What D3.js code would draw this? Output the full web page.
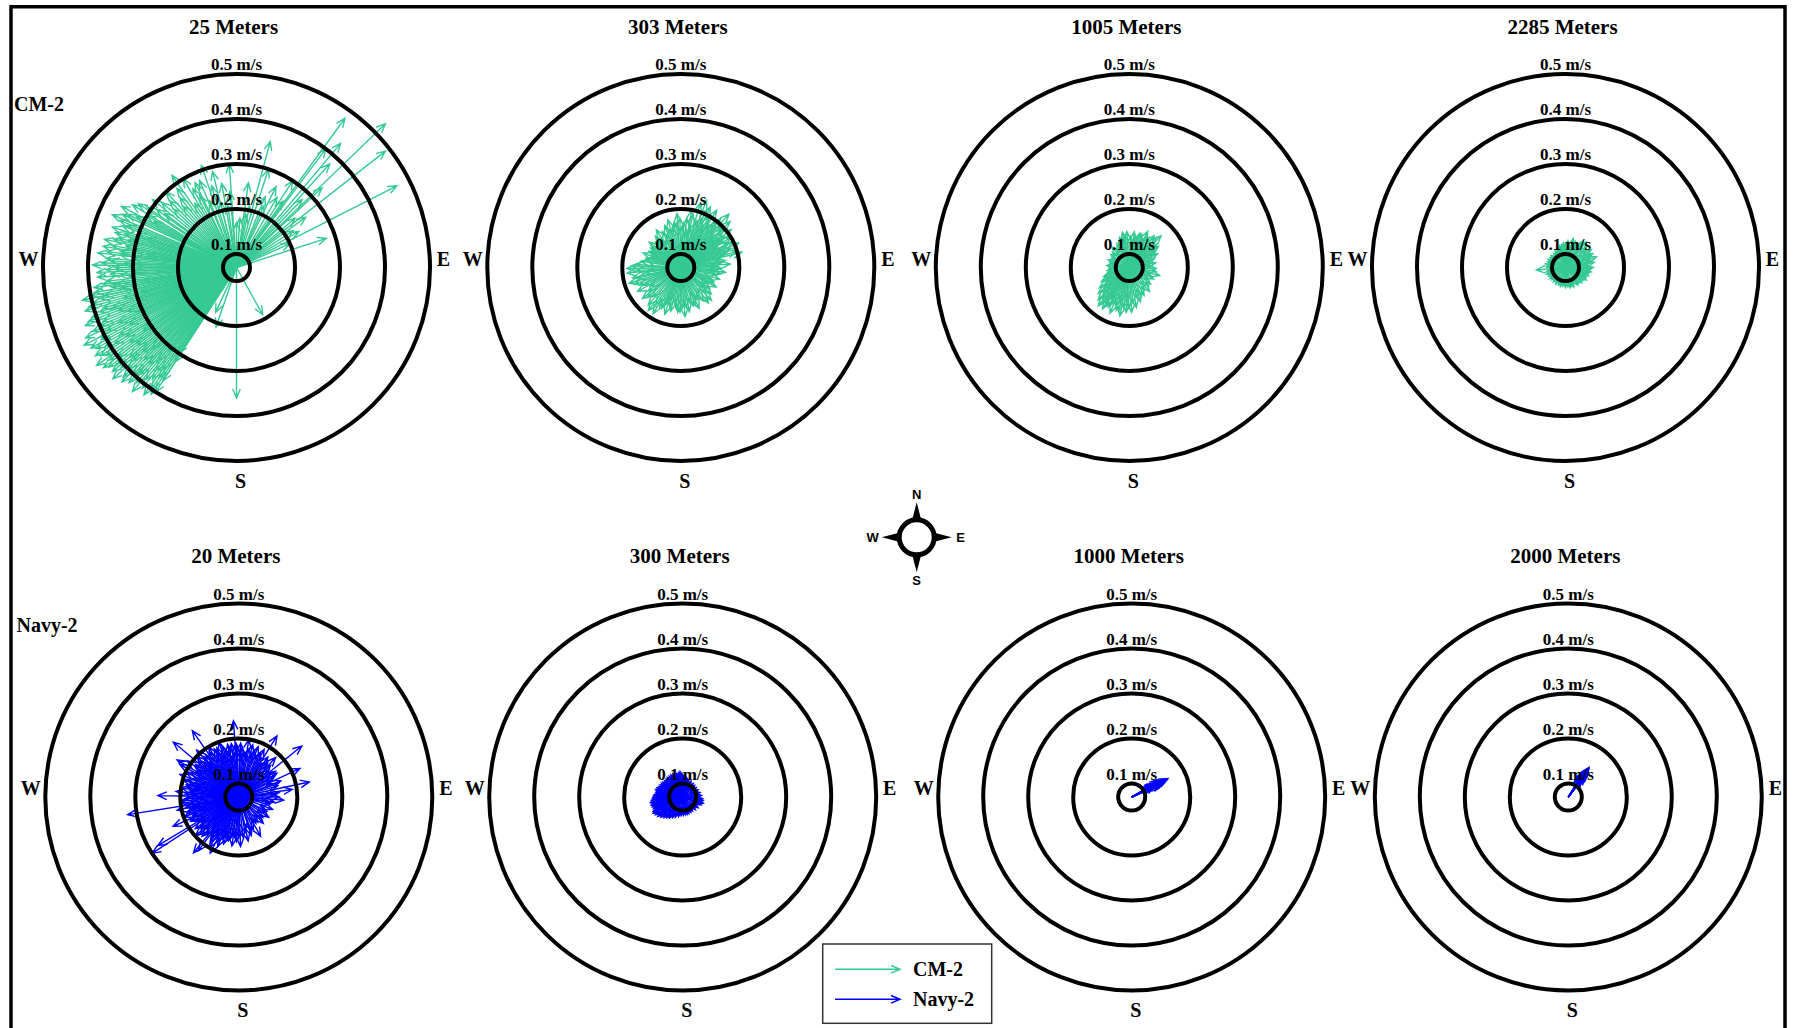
<!DOCTYPE html>
<html><head><meta charset="utf-8">
<script src="https://cdn.jsdelivr.net/npm/d3@7"></script>
<style>body{margin:0;background:#fff}svg{display:block}</style>
</head><body><svg id="chart" width="1796" height="1028"></svg>
<script>
// ---------- data ----------
const topDepths = ["25 Meters", "303 Meters", "1005 Meters", "2285 Meters"];
const bottomDepths = ["20 Meters", "300 Meters", "1000 Meters", "2000 Meters"];
const seriesNames = ["CM-2", "Navy-2"];
const ringSpeeds = [0.1, 0.2, 0.3, 0.4, 0.5];
const ringLabels = ["0.1 m/s", "0.2 m/s", "0.3 m/s", "0.4 m/s", "0.5 m/s"];
const dirLabels = ["W", "E", "S"];
const compassLabels = ["N", "E", "S", "W"];

// current vectors: [direction (deg clockwise from north), speed (m/s)]
const cm2_25m = [
 [36,0.48],[46,0.53],[40,0.43],[52,0.49],[63,0.47],[37,0.40],[42,0.38],[15,0.36],[72,0.28],[57,0.22],
 [60,0.23],[26,0.27],[30,0.25],[33,0.30],[47,0.33],[22,0.24],[66,0.20],[12,0.21],[4,0.18],[8,0.26],
 [44,0.28],[54,0.26],[18,0.30],[24,0.22],[35,0.25],[50,0.24],[10,0.19],
 [356,0.30],[355,0.24],[0,0.17],[346,0.29],[350,0.26],[346,0.22],[341,0.31],[337,0.28],[334,0.28],[333,0.25],
 [329,0.30],[325,0.32],[321,0.27],[317,0.30],[313,0.26],[309,0.31],[306,0.29],[303,0.33],[300,0.30],[297,0.32],
 [295,0.35],[298,0.36],[352,0.21],[343,0.26],[338,0.23],[331,0.27],[327,0.24],[323,0.29],[319,0.25],[315,0.28],
 [311,0.29],[307,0.27],[304,0.31],[301,0.34],[299,0.28],[296,0.34],
 [293,0.37],[290,0.34],[288,0.36],[286,0.35],[284,0.32],[282,0.37],[280,0.35],[278,0.33],[276,0.38],[274,0.36],
 [272,0.37],[270,0.34],[268,0.38],[266,0.38],[264,0.36],[262,0.39],[260,0.39],[258,0.37],[256,0.40],[254,0.42],
 [253,0.38],[251,0.41],[249,0.43],[247,0.40],[245,0.44],[243,0.45],[242,0.41],[240,0.43],[238,0.44],[236,0.42],
 [235,0.45],[233,0.44],[231,0.41],[230,0.43],[228,0.44],[227,0.40],[225,0.43],[223,0.42],[222,0.39],[220,0.43],
 [218,0.41],[217,0.38],[215,0.40],[214,0.41],[213,0.37],[213,0.32],
 [275,0.30],[265,0.31],[255,0.33],[250,0.35],[245,0.36],[240,0.37],[235,0.36],[230,0.38],[225,0.36],[220,0.34],
 [260,0.33],[270,0.29],[280,0.30],[248,0.39],[238,0.39],[228,0.38],[218,0.36],[258,0.42],[262,0.34],[252,0.30],
 [285,0.31],[289,0.30],[291,0.33],[277,0.36],[267,0.35],[243,0.41],[233,0.40],[223,0.39],[216,0.35],[214,0.30],
 [292,0.35],[287,0.33],[283,0.35],[281,0.32],[279,0.37],[273,0.35],[271,0.39],[269,0.36],[263,0.37],[261,0.35],
 [259,0.40],[257,0.38],[255,0.41],[252,0.39],[250,0.42],[246,0.42],[244,0.39],[241,0.44],[239,0.41],[237,0.43],
 [234,0.42],[232,0.43],[229,0.41],[226,0.42],[224,0.40],[221,0.41],[219,0.39],[216,0.42],[215,0.37],[213,0.40],
 [288,0.28],[278,0.27],[268,0.30],[256,0.29],[246,0.31],[236,0.32],[226,0.33],[219,0.31],[272,0.32],[262,0.28],
 [252,0.36],[242,0.34],[232,0.35],[222,0.36],[266,0.33],[276,0.33],[284,0.34],[248,0.33],[238,0.36],[228,0.35],
 [199,0.21],[180,0.36],[151,0.19],[205,0.18]
];
const cm2_303m = [
 [4,0.17],[11,0.20],[17,0.22],[21,0.23],[24,0.21],[29,0.20],[32,0.22],[36,0.19],[39,0.21],[42,0.23],
 [44,0.20],[47,0.22],[50,0.19],[53,0.21],[56,0.18],[59,0.20],[63,0.19],[67,0.21],[71,0.18],[74,0.20],
 [76,0.21],[81,0.17],[86,0.18],[91,0.16],[96,0.17],[102,0.15],[107,0.16],[113,0.15],[119,0.16],[126,0.15],
 [131,0.16],[137,0.17],[142,0.17],[149,0.15],[156,0.17],[162,0.16],[169,0.17],[175,0.18],[181,0.17],[187,0.16],
 [193,0.17],[199,0.18],[205,0.17],[211,0.19],[217,0.19],[221,0.18],[228,0.17],[234,0.16],[241,0.18],[247,0.17],
 [253,0.19],[258,0.18],[264,0.19],[269,0.19],[274,0.17],[279,0.16],[285,0.15],[291,0.16],[297,0.15],[303,0.15],
 [309,0.16],[315,0.15],[321,0.16],[327,0.17],[333,0.16],[339,0.17],[345,0.18],[351,0.17],[356,0.19],
 [28,0.17],[46,0.17],[61,0.16],[19,0.18],[238,0.15],[262,0.15],[201,0.15],[121,0.14],[331,0.14],[8,0.15],
 [34,0.18],[52,0.17],[66,0.17],[78,0.16],[14,0.16],
 [2,0.16],[7,0.18],[13,0.19],[23,0.19],[26,0.22],[31,0.19],[38,0.20],[41,0.18],[48,0.20],[55,0.19],
 [58,0.17],[64,0.20],[69,0.19],[72,0.17],[83,0.16],[88,0.15],[94,0.15],[99,0.16],[110,0.14],[116,0.15],
 [129,0.14],[134,0.15],[146,0.16],[153,0.15],[159,0.16],[166,0.15],[172,0.16],[178,0.16],[184,0.17],[190,0.15],
 [196,0.16],[203,0.16],[208,0.17],[214,0.17],[224,0.16],[231,0.18],[244,0.16],[250,0.18],[256,0.17],[266,0.17],
 [272,0.18],[282,0.15],[288,0.14],[294,0.14],[300,0.14],[306,0.15],[312,0.14],[318,0.15],[324,0.15],[336,0.15],
 [342,0.16],[348,0.16],[354,0.17],[359,0.18]
];
const cm2_1005m = [
 [356,0.15],[2,0.14],[8,0.15],[14,0.14],[20,0.15],[27,0.16],[33,0.15],[38,0.16],[45,0.17],[50,0.15],
 [57,0.14],[64,0.14],[70,0.13],[80,0.13],[92,0.13],[105,0.14],[115,0.13],[128,0.13],[140,0.14],[152,0.14],
 [162,0.15],[170,0.16],[177,0.17],[184,0.17],[191,0.18],[197,0.17],[203,0.18],[208,0.17],[213,0.18],[219,0.18],
 [224,0.17],[230,0.16],[236,0.15],[243,0.14],[251,0.13],[262,0.12],[275,0.12],[290,0.12],[305,0.12],[320,0.13],
 [333,0.13],[342,0.14],[349,0.15],
 [195,0.15],[210,0.15],[225,0.14],[185,0.14],[20,0.13],[40,0.13],[200,0.16],[215,0.16],
 [5,0.13],[11,0.14],[17,0.15],[24,0.14],[30,0.15],[36,0.14],[42,0.16],[48,0.14],[54,0.15],[60,0.13],
 [75,0.12],[86,0.12],[98,0.13],[110,0.12],[122,0.12],[134,0.13],[146,0.13],[157,0.14],[166,0.14],[174,0.15],
 [181,0.16],[188,0.16],[194,0.17],[206,0.16],[212,0.17],[217,0.17],[222,0.16],[228,0.15],[233,0.14],[240,0.13],
 [247,0.13],[256,0.12],[268,0.115],[283,0.115],[298,0.115],[312,0.12],[327,0.12],[338,0.13],[346,0.14],[352,0.14]
];
const cm2_2285m = [
 [355,0.125],[5,0.13],[15,0.137],[25,0.13],[33,0.14],[39,0.144],[46,0.135],[55,0.14],[63,0.138],[71,0.143],
 [80,0.135],[90,0.132],[100,0.128],[110,0.125],[121,0.124],[133,0.12],[145,0.118],[157,0.117],[167,0.116],[180,0.115],
 [195,0.114],[210,0.113],[220,0.112],[235,0.113],[250,0.115],[265,0.135],[280,0.115],[295,0.113],[310,0.112],[320,0.111],
 [335,0.115],[345,0.12],[30,0.125],[60,0.125],[85,0.122],[10,0.12],
 [20,0.132],[36,0.135],[50,0.13],[67,0.132],[76,0.13],[95,0.125],[105,0.122],[116,0.12],[127,0.118],[140,0.116],
 [162,0.114],[173,0.113],[188,0.112],[202,0.112],[228,0.111],[243,0.112],[257,0.114],[272,0.113],[288,0.112],[303,0.111],
 [328,0.113],[340,0.117],[350,0.122],[0,0.125]
];
const navy_20m = [
 [352,0.19],[356,0.24],[358,0.18],[2,0.19],[6,0.17],[10,0.20],[15,0.19],[19,0.18],[24,0.17],[28,0.19],
 [32,0.23],[36,0.18],[40,0.17],[43,0.19],[48,0.16],[51,0.25],[55,0.17],[60,0.16],[65,0.22],[69,0.17],
 [74,0.16],[78,0.23],[82,0.19],[86,0.15],[90,0.16],[94,0.17],[98,0.15],[104,0.14],[110,0.15],[117,0.14],
 [124,0.15],[130,0.14],[137,0.15],[143,0.14],[151,0.17],[156,0.15],[162,0.16],[168,0.17],[174,0.16],[178,0.18],
 [183,0.17],[188,0.18],[193,0.17],[198,0.18],[203,0.19],[207,0.21],[210,0.20],[214,0.18],[217,0.22],[219,0.23],
 [223,0.19],[228,0.20],[232,0.18],[237,0.30],[239,0.28],[243,0.19],[246,0.23],[250,0.20],[254,0.19],[258,0.21],
 [261,0.32],[264,0.20],[268,0.19],[271,0.25],[275,0.21],[279,0.20],[283,0.19],[287,0.20],[291,0.21],[295,0.20],
 [299,0.22],[301,0.23],[305,0.21],[310,0.26],[314,0.20],[318,0.21],[322,0.19],[325,0.25],[329,0.20],[333,0.19],
 [336,0.19],[340,0.20],[344,0.18],[348,0.19],
 [260,0.17],[280,0.17],[300,0.18],[320,0.17],[340,0.17],[240,0.17],[220,0.16],[200,0.16],[250,0.16],[270,0.16],
 [290,0.16],[310,0.16],[330,0.15],[350,0.16],[230,0.15],[275,0.18],[285,0.18],[255,0.18],[305,0.19],[315,0.18],
 [201,0.17],[205,0.18],[209,0.17],[212,0.19],[215,0.17],[221,0.18],[225,0.17],[226,0.19],[230,0.18],[234,0.19],
 [236,0.17],[241,0.18],[245,0.19],[248,0.18],[252,0.19],[256,0.17],[259,0.19],[262,0.18],[266,0.20],[269,0.18],
 [273,0.19],[277,0.18],[281,0.19],[284,0.17],[288,0.19],[292,0.18],[294,0.17],[297,0.19],[303,0.18],[307,0.19],
 [309,0.17],[312,0.19],[316,0.17],[319,0.19],[323,0.18],[327,0.19],[331,0.17],[335,0.18],[338,0.17],[342,0.19],
 [346,0.17],[349,0.18],[354,0.17],[357,0.19],[1,0.17],[4,0.18],[8,0.17],[12,0.18],[17,0.17],[21,0.19],
 [26,0.18],[30,0.17],[34,0.16],[38,0.17],[45,0.17],[53,0.16],[58,0.17],[63,0.15],[71,0.16],[84,0.16],
 [190,0.16],[185,0.16],[180,0.16],[195,0.17],[170,0.15],[160,0.15],[147,0.14],[134,0.14],[120,0.14],[100,0.14]
];
const navy_300m = [
 [354,0.127],[5,0.115],[20,0.11],[38,0.108],[55,0.107],[75,0.11],[95,0.115],[107,0.118],[125,0.112],[145,0.108],
 [160,0.11],[172,0.11],[185,0.112],[200,0.118],[212,0.125],[222,0.132],[232,0.14],[241,0.145],[248,0.14],[255,0.142],
 [260,0.143],[266,0.138],[272,0.135],[279,0.13],[286,0.132],[294,0.128],[303,0.126],[312,0.124],[322,0.125],[332,0.126],
 [342,0.125],[348,0.122],
 [250,0.13],[265,0.128],[235,0.128],[280,0.122],[300,0.12],[220,0.12],[330,0.118],[0,0.12],
 [358,0.122],[10,0.115],[15,0.112],[28,0.11],[46,0.107],[65,0.108],[85,0.112],[100,0.116],[113,0.115],[135,0.11],
 [152,0.109],[166,0.11],[178,0.111],[192,0.115],[206,0.121],[217,0.128],[227,0.136],[237,0.142],[244,0.143],[252,0.141],
 [257,0.14],[263,0.14],[269,0.136],[275,0.133],[283,0.131],[290,0.13],[298,0.127],[307,0.125],[317,0.124],[327,0.125],
 [337,0.126],[345,0.124],[351,0.125],[245,0.135],[258,0.134],[270,0.128],[230,0.132],[290,0.124],[310,0.12],[340,0.12]
];
const navy_1000m = [
 [63,0.16],[62,0.155],[64,0.158],[61,0.15],[65,0.152],[60,0.145],[66,0.148],[59,0.14],[67,0.142],[62,0.138],
 [64,0.135],[60,0.132],[63,0.13],[59,0.128],[65,0.127],[61,0.125],[63,0.12],[62,0.145],[64,0.15],[66,0.14]
];
const navy_2000m = [
 [35,0.15],[34,0.145],[36,0.148],[33,0.14],[37,0.142],[32,0.135],[38,0.138],[35,0.13],[31,0.128],[39,0.13],
 [34,0.125],[36,0.122],[33,0.12],[37,0.135],[35,0.14]
];
const topSeries = [cm2_25m, cm2_303m, cm2_1005m, cm2_2285m];
const bottomSeries = [navy_20m, navy_300m, navy_1000m, navy_2000m];

// ---------- layout / style ----------
const colors = {"CM-2": "#35c994", "Navy-2": "#0000ff"};
const topCx = [236.5, 680.8, 1129.3, 1565.5], botCx = [238.8, 682.7, 1131.7, 1568.3];
const topCy = 267.5, botCy = 797;
const serif = "'Liberation Serif','Times New Roman',serif";
const sans = "'Liberation Sans',Arial,sans-serif";

const svg = d3.select("#chart");
const r = d3.scaleLinear().domain([0.1, 0.5]).range([13.5, 193.5]);
const HEAD = 9, HALF = 3.8;

function arrowPath(dirDeg, len) {
  const a = dirDeg * Math.PI / 180;
  const [tx, ty] = d3.pointRadial(a, len);
  const ux = Math.sin(a), uy = -Math.cos(a);
  const bx = tx - HEAD * ux, by = ty - HEAD * uy;
  const nx = -uy, ny = ux;
  return `M0,0L${tx},${ty}M${bx + HALF*nx},${by + HALF*ny}L${tx},${ty}L${bx - HALF*nx},${by - HALF*ny}`;
}

function panel(cx, cy, title, data, color) {
  const g = svg.append("g").attr("transform", `translate(${cx},${cy})`);
  g.append("g").selectAll("path").data(data).join("path")
    .attr("d", d => arrowPath(d[0], Math.max(0, r(d[1]))))
    .attr("fill", "none").attr("stroke", color).attr("stroke-width", 1.4);
  g.append("g").selectAll("circle").data(ringSpeeds).join("circle")
    .attr("r", d => r(d)).attr("fill", "none").attr("stroke", "#000").attr("stroke-width", 4);
  g.append("g").selectAll("text").data(ringSpeeds).join("text")
    .attr("x", 0).attr("y", d => -r(d) - 4)
    .attr("text-anchor", "middle").attr("font-family", serif).attr("font-weight", "bold")
    .attr("font-size", 17).text((d, i) => ringLabels[i]);
  g.append("text").attr("x", -3).attr("y", -234).attr("text-anchor", "middle")
    .attr("font-family", serif).attr("font-weight", "bold").attr("font-size", 21).text(title);
  const pos = {W: [-208, -2], E: [207, -2], S: [4, 220]};
  g.append("g").selectAll("text").data(dirLabels).join("text")
    .attr("x", d => pos[d][0]).attr("y", d => pos[d][1])
    .attr("text-anchor", "middle").attr("font-family", serif).attr("font-weight", "bold")
    .attr("font-size", 20).text(d => d);
}

topDepths.forEach((t, i) => panel(topCx[i], topCy, t, topSeries[i], colors["CM-2"]));
bottomDepths.forEach((t, i) => panel(botCx[i], botCy, t, bottomSeries[i], colors["Navy-2"]));

svg.append("text").attr("x", 14).attr("y", 111).attr("font-family", serif).attr("font-weight", "bold")
  .attr("font-size", 20).text(seriesNames[0]);
svg.append("text").attr("x", 16.5).attr("y", 632).attr("font-family", serif).attr("font-weight", "bold")
  .attr("font-size", 20).text(seriesNames[1]);

svg.append("path").attr("d", "M11,1040L11,6.7L1785,6.7L1785,1040")
  .attr("fill", "none").attr("stroke", "#000").attr("stroke-width", 3.5);

const comp = svg.append("g").attr("transform", "translate(916.7,537.3)");
compassLabels.forEach((L, i) => {
  const a = i * Math.PI / 2;
  const tip = d3.pointRadial(a, 35), b1 = d3.pointRadial(a - 0.42, 14), b2 = d3.pointRadial(a + 0.42, 14);
  comp.append("path").attr("d", `M${b1}L${tip}L${b2}Z`).attr("fill", "#000");
  const lp = d3.pointRadial(a, i % 2 ? 44 : 43);
  comp.append("text").attr("x", lp[0]).attr("y", lp[1]).attr("dy", "0.36em")
    .attr("text-anchor", "middle").attr("font-family", sans).attr("font-weight", "bold")
    .attr("font-size", 13).text(L);
});
comp.append("circle").attr("r", 17.5).attr("fill", "#fff").attr("stroke", "#000").attr("stroke-width", 5);

const lg = svg.append("g");
lg.append("rect").attr("x", 822.7).attr("y", 944).attr("width", 169).attr("height", 79.3)
  .attr("fill", "#fff").attr("stroke", "#333").attr("stroke-width", 1.5);
seriesNames.forEach((s, i) => {
  const y = 969.3 + i * 30;
  lg.append("path").attr("transform", `translate(835,${y})`).attr("d", arrowPath(90, 65))
    .attr("fill", "none").attr("stroke", colors[s]).attr("stroke-width", 1.5);
  lg.append("text").attr("x", 913).attr("y", y + 6.5).attr("font-family", serif).attr("font-weight", "bold")
    .attr("font-size", 20).text(s);
});
</script></body></html>
